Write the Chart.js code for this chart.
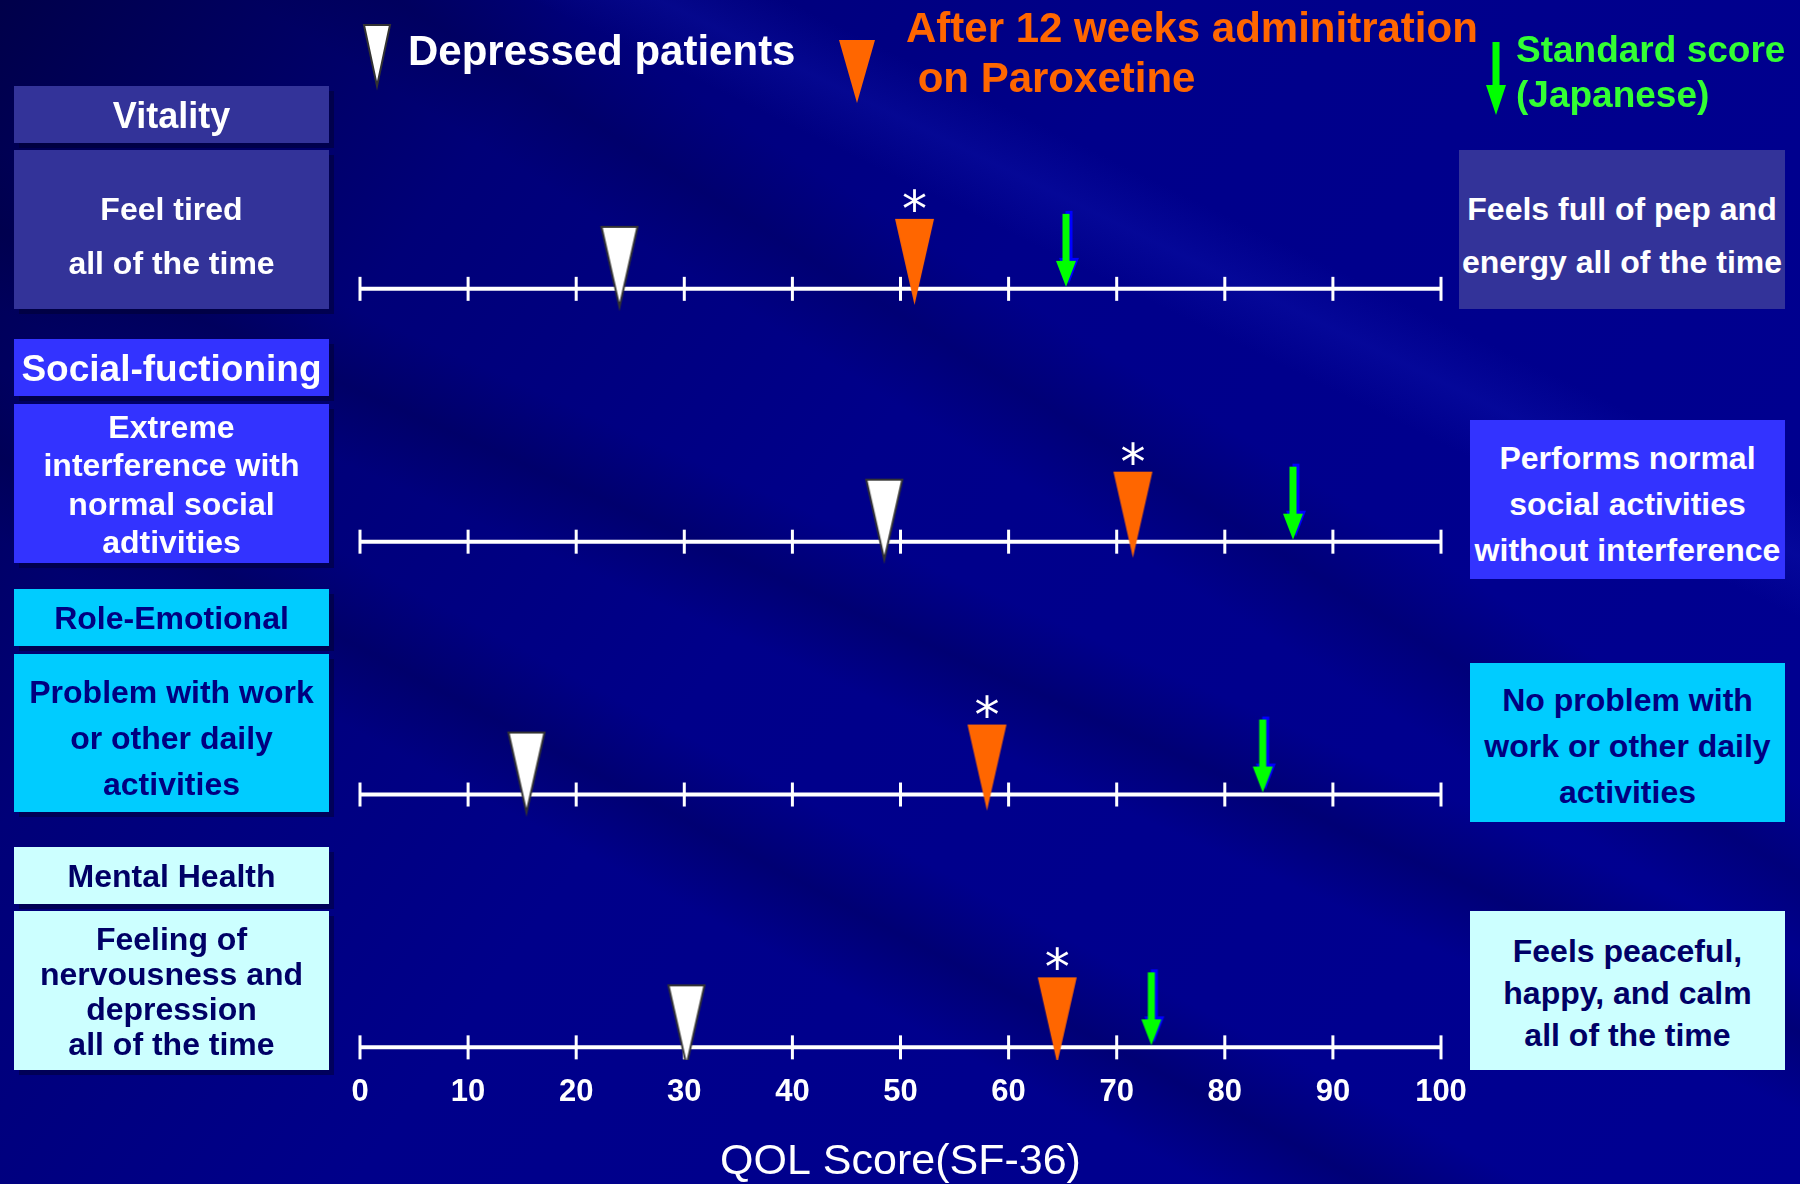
<!DOCTYPE html>
<html>
<head>
<meta charset="utf-8">
<title>QOL Score (SF-36)</title>
<script src="https://cdn.jsdelivr.net/npm/chart.js@4.4.1/dist/chart.umd.min.js"></script>
<style>
  html, body { margin: 0; padding: 0; }
  body {
    width: 1800px; height: 1184px; overflow: hidden; position: relative;
    font-family: "Liberation Sans", Arial, sans-serif; font-weight: bold;
    background:
      linear-gradient(28deg, rgba(0,0,0,0) 30%, rgba(0,0,60,0.30) 34%, rgba(0,0,0,0) 38%),
      linear-gradient(24deg, rgba(0,0,0,0) 44%, rgba(0,0,60,0.30) 48%, rgba(0,0,0,0) 52%),
      linear-gradient(32deg, rgba(0,0,0,0) 58%, rgba(0,0,60,0.25) 62%, rgba(0,0,0,0) 66%),
      linear-gradient(26deg, rgba(0,0,0,0) 70%, rgba(20,30,190,0.25) 73%, rgba(0,0,0,0) 76%),
      linear-gradient(125deg, #00004a 0%, #000078 22%, #00008a 45%, #000092 100%);
  }
  #wrap { position: absolute; left: 0; top: 0; width: 1800px; height: 1184px; }
  .box {
    position: absolute; display: flex; align-items: center; justify-content: center;
    text-align: center; font-size: 32px; box-shadow: 5px 5px 0 rgba(0,0,40,0.45);
    box-sizing: border-box;
  }
  .vit { background: #333399; color: #ffffff; }
  .soc { background: #3333ff; color: #ffffff; }
  .role { background: #00ccff; color: #000080; }
  .ment { background: #ccffff; color: #000066; }
  .hdr { position: absolute; white-space: pre; line-height: 1; }
</style>
</head>
<body>
<div id="wrap"><canvas id="qol"></canvas></div>

<div class="box vit" style="left:14px;top:86px;width:315px;height:57px;font-size:36px;padding-top:2px;">Vitality</div>
<div class="box vit" style="left:14px;top:150px;width:315px;height:159px;line-height:54px;padding-top:12px;">Feel tired<br>all of the time</div>
<div class="box soc" style="left:14px;top:339px;width:315px;height:57px;font-size:37px;padding-top:2px;">Social-fuctioning</div>
<div class="box soc" style="left:14px;top:404px;width:315px;height:159px;line-height:38.5px;padding-top:2px;">Extreme<br>interference with<br>normal social<br>adtivities</div>
<div class="box role" style="left:14px;top:589px;width:315px;height:57px;padding-top:2px;">Role-Emotional</div>
<div class="box role" style="left:14px;top:654px;width:315px;height:158px;line-height:46px;padding-top:9px;">Problem with work<br>or other daily<br>activities</div>
<div class="box ment" style="left:14px;top:847px;width:315px;height:57px;padding-top:2px;">Mental Health</div>
<div class="box ment" style="left:14px;top:911px;width:315px;height:159px;line-height:35px;padding-top:2px;">Feeling of<br>nervousness and<br>depression<br>all of the time</div>

<div class="box vit" style="left:1459px;top:150px;width:326px;height:159px;line-height:53px;padding-top:12px;box-shadow:none;">Feels full of pep and<br>energy all of the time</div>
<div class="box soc" style="left:1470px;top:420px;width:315px;height:159px;line-height:46px;padding-top:9px;box-shadow:none;">Performs normal<br>social activities<br>without interference</div>
<div class="box role" style="left:1470px;top:663px;width:315px;height:159px;line-height:46px;padding-top:7px;box-shadow:none;">No problem with<br>work or other daily<br>activities</div>
<div class="box ment" style="left:1470px;top:911px;width:315px;height:159px;line-height:42px;padding-top:5px;box-shadow:none;">Feels peaceful,<br>happy, and calm<br>all of the time</div>

<div class="hdr" style="left:408px;top:30px;font-size:42px;color:#ffffff;">Depressed patients</div>
<div class="hdr" style="left:906px;top:7px;font-size:42px;color:#ff6600;">After 12 weeks adminitration</div>
<div class="hdr" style="left:906px;top:57px;font-size:42px;color:#ff6600;"> on Paroxetine</div>
<div class="hdr" style="left:1516px;top:31px;font-size:37px;color:#33ff33;">Standard score</div>
<div class="hdr" style="left:1516px;top:76px;font-size:37px;color:#33ff33;">(Japanese)</div>

<script>
// données
const categories = ['Vitality', 'Social-fuctioning', 'Role-Emotional', 'Mental Health'];
const rowIndex = [1, 2, 3, 4];
const depressedScores = [24.0, 48.5, 15.4, 30.2];
const paroxetineScores = [51.3, 71.5, 58.0, 64.5];
const standardScores = [65.4, 86.4, 83.6, 73.3];
const xTicks = [0, 10, 20, 30, 40, 50, 60, 70, 80, 90, 100];
const significant = [true, true, true, true];

// triangle pointe en bas, la pointe tombe sous la ligne
function makeTriangle(w, above, below, fill, stroke) {
    const c = document.createElement('canvas');
    c.width = w + 4;
    c.height = 2 * Math.max(above, below) + 4;
    const g = c.getContext('2d');
    const cy = c.height / 2;
    g.beginPath();
    g.moveTo(2, cy - above);
    g.lineTo(2 + w, cy - above);
    g.lineTo(2 + w / 2, cy + below);
    g.closePath();
    g.fillStyle = fill;
    g.fill();
    if (stroke) {
        g.strokeStyle = stroke;
        g.lineWidth = 2;
        g.stroke();
    }
    return c;
}

function arrowPath(g, cx, top, tip, shaft, headW, headL) {
    g.beginPath();
    g.moveTo(cx - shaft / 2, top);
    g.lineTo(cx + shaft / 2, top);
    g.lineTo(cx + shaft / 2, tip - headL);
    g.lineTo(cx + headW / 2, tip - headL);
    g.lineTo(cx, tip);
    g.lineTo(cx - headW / 2, tip - headL);
    g.lineTo(cx - shaft / 2, tip - headL);
    g.closePath();
}

function makeArrow(above, below) {
    const c = document.createElement('canvas');
    c.width = 30;
    c.height = 2 * Math.max(above, below) + 8;
    const g = c.getContext('2d');
    const cy = c.height / 2;
    arrowPath(g, 17, cy - above - 3, cy + below - 3, 7, 20, 26);
    g.fillStyle = '#0000ff';
    g.fill();
    arrowPath(g, 14, cy - above, cy + below, 7, 20, 26);
    g.fillStyle = '#00ff00';
    g.fill();
    return c;
}

const whiteMark = makeTriangle(36, 62, 18, '#ffffff', '#333333');
const orangeMark = makeTriangle(39, 70, 16, '#ff6600', null);
const greenMark = makeArrow(75, -2);

function rowLines() {
    return rowIndex.map(r => ({
        type: 'scatter',
        showLine: true,
        data: [{x: xTicks[0], y: r}, {x: xTicks[xTicks.length - 1], y: r}],
        borderColor: '#ffffff',
        borderWidth: 4,
        pointRadius: 0,
        order: 10
    }));
}

function markers(values, img) {
    return {
        type: 'scatter',
        data: values.map((v, i) => ({x: v, y: rowIndex[i]})),
        pointStyle: img,
        pointRadius: 20,
        order: 1
    };
}

const tickMarks = {
    id: 'tickMarks',
    beforeDatasetsDraw(chart) {
        const ctx = chart.ctx;
        const xs = chart.scales.x;
        const ys = chart.scales.y;
        ctx.save();
        ctx.strokeStyle = '#ffffff';
        ctx.lineWidth = 3;
        rowIndex.forEach(r => {
            const y = ys.getPixelForValue(r);
            xTicks.forEach(t => {
                const x = xs.getPixelForValue(t);
                ctx.beginPath();
                ctx.moveTo(x, y - 12);
                ctx.lineTo(x, y + 12);
                ctx.stroke();
            });
        });
        ctx.restore();
    }
};

const asterisks = {
    id: 'asterisks',
    afterDatasetsDraw(chart) {
        const ctx = chart.ctx;
        const meta = chart.getDatasetMeta(1);
        ctx.save();
        ctx.font = '50px "DejaVu Sans", sans-serif';
        ctx.fillStyle = '#ffffff';
        ctx.textAlign = 'center';
        ctx.textBaseline = 'middle';
        meta.data.forEach((pt, i) => {
            if (significant[i]) ctx.fillText('*', pt.x, pt.y - 76);
        });
        ctx.restore();
    }
};

// légende en haut
const legendMarks = {
    id: 'legendMarks',
    afterDraw(chart) {
        const ctx = chart.ctx;
        ctx.save();
        ctx.beginPath();
        ctx.moveTo(364, 25);
        ctx.lineTo(390, 25);
        ctx.lineTo(377, 86);
        ctx.closePath();
        ctx.fillStyle = '#ffffff';
        ctx.fill();
        ctx.strokeStyle = '#333333';
        ctx.lineWidth = 2;
        ctx.stroke();

        ctx.beginPath();
        ctx.moveTo(839, 40);
        ctx.lineTo(875, 40);
        ctx.lineTo(857, 103);
        ctx.closePath();
        ctx.fillStyle = '#ff6600';
        ctx.fill();

        arrowPath(ctx, 1496, 42, 115, 7, 20, 30);
        ctx.fillStyle = '#00ff00';
        ctx.fill();
        ctx.restore();
    }
};

new Chart(document.getElementById('qol'), {
    type: 'scatter',
    data: {
        datasets: [
            markers(depressedScores, whiteMark),
            markers(paroxetineScores, orangeMark),
            markers(standardScores, greenMark)
        ].concat(rowLines())
    },
    options: {
        responsive: true,
        maintainAspectRatio: false,
        animation: false,
        events: [],
        layout: {
            padding: {left: 360, right: 359, top: 36, bottom: 0}
        },
        plugins: {
            legend: {display: false},
            tooltip: {enabled: false}
        },
        scales: {
            x: {
                type: 'linear',
                min: 0,
                max: 100,
                afterFit: (scale) => { scale.height = 124; },
                afterBuildTicks: (scale) => { scale.ticks = xTicks.map(v => ({value: v})); },
                grid: {display: false, drawTicks: false},
                border: {display: false},
                ticks: {
                    color: '#ffffff',
                    padding: 14,
                    maxRotation: 0,
                    autoSkip: false,
                    font: {size: 31, weight: 'bold', family: '"Liberation Sans", Arial, sans-serif'}
                },
                title: {
                    display: true,
                    text: 'QOL Score(SF-36)',
                    color: '#ffffff',
                    padding: 0,
                    font: {size: 43, lineHeight: 1, family: '"Liberation Sans", Arial, sans-serif'}
                }
            },
            y: {
                type: 'linear',
                display: false,
                reverse: true,
                min: 0,
                max: 4.05
            }
        }
    },
    plugins: [tickMarks, asterisks, legendMarks]
});
</script>
</body>
</html>
